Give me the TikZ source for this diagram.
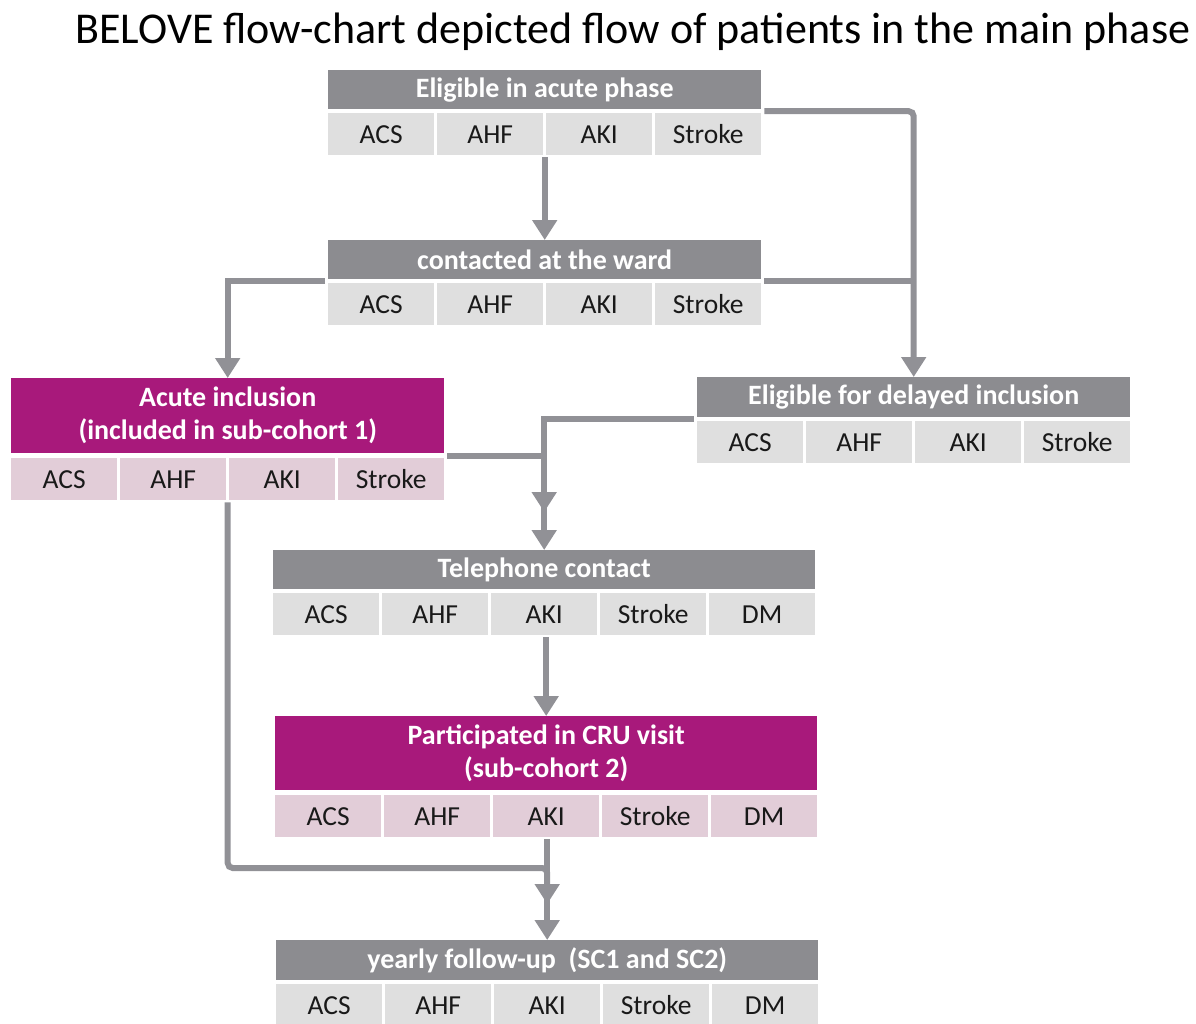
\documentclass[tikz,border=0pt]{standalone}
\usepackage{fontspec}
\setmainfont{Carlito}
\usetikzlibrary{arrows.meta,calc}
\definecolor{hdrgray}{RGB}{140,140,144}
\definecolor{cellgray}{RGB}{223,223,223}
\definecolor{mag}{RGB}{168,25,123}
\definecolor{pinkcell}{RGB}{226,205,216}
\definecolor{linegray}{RGB}{145,145,150}
\newcommand\hdrfont{\bfseries\fontsize{28}{33}\selectfont}
\newcommand\cellfont{\fontsize{27.5}{33}\selectfont}
\newcommand\mkcells[5]{%
  \foreach \t [count=\i] in {#5}{%
    \node[#4, anchor=north west] (#1\i) at ({#2+(\i-1)*109},#3) {\t};}}
\begin{document}
\begin{tikzpicture}[x=1pt,y=-1pt,
  hdr/.style={fill=hdrgray, text=white, font=\hdrfont, inner sep=0, anchor=north west, align=center},
  mhdr/.style={hdr, fill=mag},
  cell/.style={fill=cellgray, text=black!90, font=\cellfont, minimum width=106pt, minimum height=42pt, inner sep=0},
  pcell/.style={cell, fill=pinkcell},
  ln/.style={draw=linegray, line width=6pt},
  arr/.style={ln, -{Triangle[width=24pt,length=20pt]}},
  w4/.style={minimum width=433pt},
  w5/.style={minimum width=542pt}]
\useasboundingbox (0,0) rectangle (1196,1023);
\node[font=\fontsize{44}{50}\selectfont, anchor=base] (title) at (633,43) {BELOVE flow-chart depicted flow of patients in the main phase};
% A
\node[hdr, w4, minimum height=39pt] (Ah) at (328,70) {Eligible in acute phase};
\mkcells{A}{328}{113}{cell}{ACS,AHF,AKI,Stroke}
% B
\node[hdr, w4, minimum height=39pt] (Bh) at (328,240) {contacted at the ward};
\mkcells{B}{328}{283}{cell}{ACS,AHF,AKI,Stroke}
% C
\node[mhdr, w4, minimum height=75pt] (Ch) at (11,378) {Acute inclusion\\(included in sub-cohort 1)};
\mkcells{C}{11}{458}{pcell}{ACS,AHF,AKI,Stroke}
% D
\node[hdr, w4, minimum height=40pt] (Dh) at (697,377) {Eligible for delayed inclusion};
\mkcells{D}{697}{421}{cell}{ACS,AHF,AKI,Stroke}
% E
\node[hdr, w5, minimum height=39pt] (Eh) at (273,550) {Telephone contact};
\mkcells{E}{273}{593}{cell}{ACS,AHF,AKI,Stroke,DM}
% F
\node[mhdr, w5, minimum height=74pt] (Fh) at (275,716) {Participated in CRU visit\\(sub-cohort 2)};
\mkcells{F}{275}{795}{pcell}{ACS,AHF,AKI,Stroke,DM}
% G
\node[hdr, w5, minimum height=40pt] (Gh) at (276,940) {yearly follow-up\ \ (SC1 and SC2)};
\mkcells{G}{276}{984}{cell}{ACS,AHF,AKI,Stroke,DM}
% gap coordinates
\coordinate (gA) at ($(Ah.south east)!.5!(A4.north east)$);
\coordinate (gB) at ($(Bh.south east)!.5!(B4.north east)$);
\coordinate (gBw) at ($(Bh.south west)!.5!(B1.north west)$);
\coordinate (gC) at ($(Ch.south east)!.5!(C4.north east)$);
\coordinate (gDw) at ($(Dh.south west)!.5!(D1.north west)$);
\coordinate (mE) at ($(Eh.north)+(0,-38)$);
\coordinate (jG) at ($(Gh.north)+(0,-72)$);
\coordinate (mG) at ($(Gh.north)+(0,-36)$);
% connectors
\draw[arr, shorten <=2pt] (Ah.south |- A3.south) -- (Bh.north);
\draw[arr, rounded corners=5pt, shorten <=3pt] (gA) -| (Dh.north);
\draw[ln, shorten <=3pt] (gB) -- (gB -| Dh.north);
\draw[arr, shorten <=3pt] (gBw) -| (Ch.north);
\draw[arr, shorten <=3pt] (gDw) -| (Eh.north);
\draw[arr, shorten <=3pt] (gC) -| (mE);
\draw[arr, shorten <=2pt] (Fh.north |- E3.south) -- (Fh.north);
\draw[arr, shorten <=2pt] (Gh.north |- F3.south) -- (Gh.north);
\draw[arr, rounded corners=5pt, shorten <=2pt] (Ch.south |- C2.south) |- (jG) -- (mG);
\end{tikzpicture}
\end{document}
